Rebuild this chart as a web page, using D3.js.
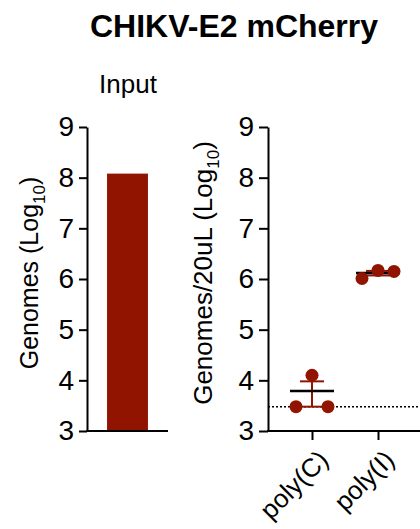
<!DOCTYPE html>
<html>
<head>
    <style>
        body { margin: 0; background: #fff; }
        svg text { font-family: Arial, "Liberation Sans", sans-serif; fill: #000; }
        .axis path, .axis line { stroke: #000; stroke-width: 2px; }
        .axis text { font-size: 28px; }
    </style>
    <script type="text/javascript" src="https://d3js.org/d3.v7.min.js"></script>
</head>
<body>
<svg width="420" height="529"></svg>
<script>
    // data
    let inputCats = ["Input"];
    let inputValues = [8.08];

    let groups = ["poly(C)", "poly(I)"];
    let points = [
        [3.48, 4.10, 3.48],
        [6.01, 6.17, 6.15]
    ];
    let means = [3.79, 6.12];
    let errLow = [3.48, 6.07];
    let errHigh = [3.98, 6.16];
    let detectionLimit = 3.48;
    let yTicks = [3, 4, 5, 6, 7, 8, 9];

    let red = "#911400";
    let svg = d3.select("svg");

    svg.append("text")
        .attr("x", 234).attr("y", 37)
        .attr("text-anchor", "middle")
        .style("font-size", "32px").style("font-weight", "bold")
        .text("CHIKV-E2 mCherry");

    let y = d3.scaleLinear().domain([3, 9]).range([431, 127]);

    // left panel
    let x1 = d3.scaleBand().domain(inputCats).range([87, 168]).paddingInner(0).paddingOuter(0.49);

    let left = svg.append("g");
    left.append("g").attr("class", "axis")
        .attr("transform", "translate(87,0)")
        .call(d3.axisLeft(y).tickValues(yTicks).tickFormat(d3.format("d"))
            .tickSize(8).tickPadding(5).tickSizeOuter(0));
    left.append("line")
        .attr("x1", 86).attr("x2", 168).attr("y1", y(3)).attr("y2", y(3))
        .attr("stroke", "#000").attr("stroke-width", 2);

    left.selectAll(".bar").data(inputValues).enter().append("rect")
        .attr("x", (d, i) => x1(inputCats[i]))
        .attr("width", x1.bandwidth())
        .attr("y", d => y(d))
        .attr("height", d => y(3) - y(d) - 1)
        .attr("fill", red);

    left.append("text")
        .attr("x", 128).attr("y", 93)
        .attr("text-anchor", "middle").style("font-size", "26px")
        .text("Input");

    let lab1 = left.append("text")
        .attr("transform", "translate(38,273) rotate(-90)")
        .attr("text-anchor", "middle").style("font-size", "25px");
    lab1.append("tspan").text("Genomes (Log");
    lab1.append("tspan").attr("dy", 7).style("font-size", "17px").text("10");
    lab1.append("tspan").attr("dy", -7).text(")");

    // right panel
    let x2 = d3.scalePoint().domain(groups).range([312, 378]);
    let right = svg.append("g");

    right.append("line")
        .attr("x1", 268).attr("x2", 420)
        .attr("y1", y(detectionLimit)).attr("y2", y(detectionLimit))
        .attr("stroke", "#000").attr("stroke-width", 1.5)
        .attr("stroke-dasharray", "2,2");

    right.append("g").attr("class", "axis")
        .attr("transform", "translate(268,0)")
        .call(d3.axisLeft(y).tickValues(yTicks).tickFormat(d3.format("d"))
            .tickSize(9).tickPadding(5).tickSizeOuter(0));

    let xAxis = right.append("g").attr("class", "axis")
        .attr("transform", "translate(0," + y(3) + ")")
        .call(d3.axisBottom(x2).tickSize(9).tickSizeOuter(0));
    xAxis.select(".domain").remove();
    xAxis.append("line").attr("x1", 267).attr("x2", 420)
        .attr("stroke", "#000").attr("stroke-width", 2);
    xAxis.selectAll(".tick text")
        .attr("text-anchor", "end")
        .attr("dx", 0).attr("dy", 0)
        .attr("transform", "translate(9,22) rotate(-45)")
        .style("font-size", "26px");

    let grp = right.selectAll(".grp").data(groups).enter().append("g");

    // error bars
    grp.append("line")
        .attr("x1", d => x2(d)).attr("x2", d => x2(d))
        .attr("y1", (d, i) => y(errLow[i])).attr("y2", (d, i) => y(errHigh[i]))
        .attr("stroke", red).attr("stroke-width", 2);
    grp.append("line")
        .attr("x1", d => x2(d) - 12).attr("x2", d => x2(d) + 12)
        .attr("y1", (d, i) => y(errHigh[i])).attr("y2", (d, i) => y(errHigh[i]))
        .attr("stroke", red).attr("stroke-width", 2);
    grp.append("line")
        .attr("x1", d => x2(d) - 12).attr("x2", d => x2(d) + 12)
        .attr("y1", (d, i) => y(errLow[i])).attr("y2", (d, i) => y(errLow[i]))
        .attr("stroke", red).attr("stroke-width", 2);

    // mean lines
    grp.append("line")
        .attr("x1", d => x2(d) - 22).attr("x2", d => x2(d) + 22)
        .attr("y1", (d, i) => y(means[i])).attr("y2", (d, i) => y(means[i]))
        .attr("stroke", "#000").attr("stroke-width", 2.5);

    // points
    let offsets = [-16, 0, 16];
    grp.each(function(g, gi) {
        d3.select(this).selectAll("circle").data(points[gi]).enter().append("circle")
            .attr("cx", (d, j) => x2(g) + offsets[j])
            .attr("cy", d => y(d))
            .attr("r", 6.5)
            .attr("fill", red);
    });

    let lab2 = right.append("text")
        .attr("transform", "translate(212,273) rotate(-90)")
        .attr("text-anchor", "middle").style("font-size", "26px");
    lab2.append("tspan").text("Genomes/20uL (Log");
    lab2.append("tspan").attr("dy", 7).style("font-size", "17px").text("10");
    lab2.append("tspan").attr("dy", -7).text(")");
</script>
</body>
</html>
